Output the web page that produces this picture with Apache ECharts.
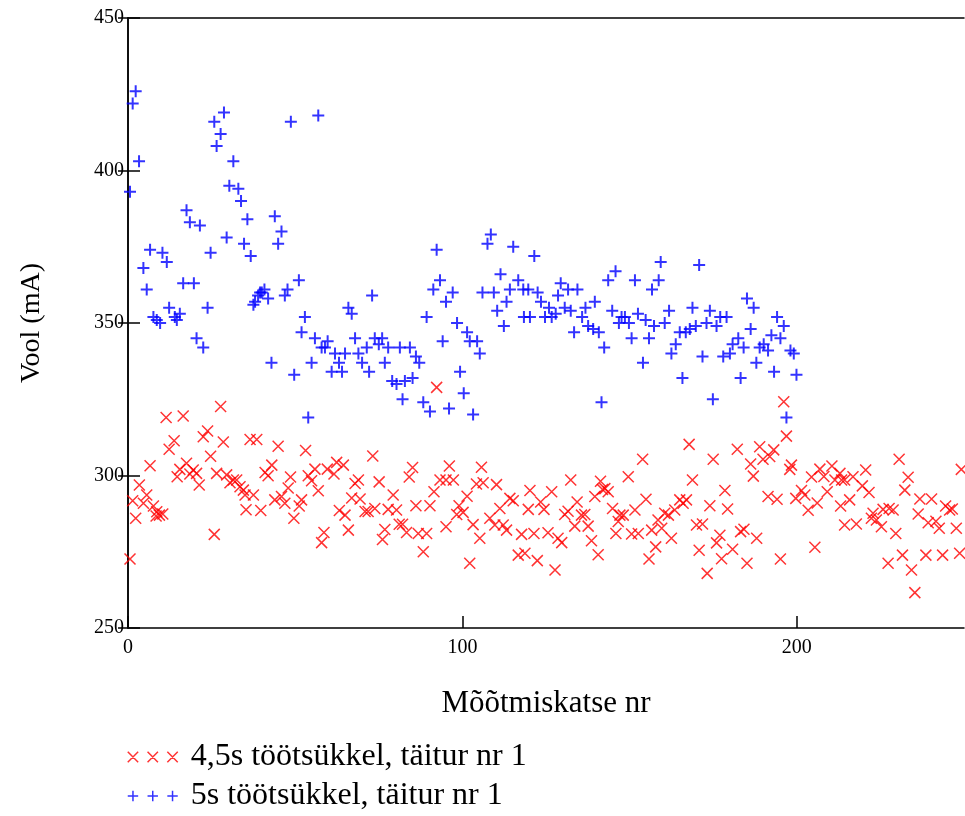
<!DOCTYPE html>
<html>
<head>
<meta charset="utf-8">
<script src="https://cdn.jsdelivr.net/npm/echarts@6/dist/echarts.min.js"></script>
<style>
html,body{margin:0;padding:0;background:#fff;}
#chart{width:965px;height:816px;}
</style>
</head>
<body>
<div id="chart"></div>
<script>
// Series 1: 4,5s töötsükkel (red ×) — [measurement nr, current mA]
const redPoints = [
[0.6,272.6],[1.4,291.7],[2.3,286],[3.4,296.9],[4.6,290.9],[5.6,293.6],[6.6,303.2],[7.6,290],[8.4,286.7],[8.6,288.1],
[9.4,287],[10.4,287.4],[11.4,319],[12.3,308.6],[13.8,311.4],[14.7,299.6],[15.5,302],[16.5,319.5],[17.5,304],[18.5,300.5],
[19.5,301.8],[20.5,300.7],[21.3,296.9],[22.5,312.7],[23.8,314.6],[24.7,306.3],[25.8,280.7],[26.5,300.7],[27.7,322.6],[28.5,311],
[29.5,300.2],[30.5,297.6],[31.5,298.5],[32.5,298.5],[33.5,296.3],[34.5,295.2],[35.3,288.8],[35,293.6],[36.5,311.8],[37.5,293.6],
[38.5,311.8],[39.7,288.5],[41,301],[41.9,299.9],[43,303.4],[43.9,292],[44.9,309.6],[45.9,293.1],[46.9,290.9],[47.9,295.9],
[48.6,299.5],[49.6,286],[51.2,290],[51.9,292],[53.1,308.2],[53.9,299.9],[54.9,298.3],[55.9,302.1],[56.9,295],[57.9,278],
[58.6,281.3],[59.6,302.1],[61.6,300.5],[62.4,304.3],[63.2,288.5],[64.4,303.4],[64.9,287],[65.9,282.1],[66.9,292.6],[67.9,297.4],
[68.9,298.5],[69.4,292.3],[70.9,288.2],[71.8,288.2],[73.2,306.4],[73.8,289.2],[75.1,297.9],[76.1,279],[76.8,282.3],[77.8,288.9],
[79.3,293.6],[80.3,288.7],[81.1,284],[82.1,284],[83.3,281.3],[84.1,299.5],[85.1,302.6],[86.1,290.1],[86.8,281],[88.3,275],
[89.3,281],[90.3,290.1],[91.5,294.7],[92.3,328.9],[93.3,298.5],[95.1,298.5],[95.1,283.2],[96.1,303.1],[97.3,298.5],[98.3,287.2],
[99,290.1],[100.2,287.9],[101.4,293.2],[102.2,271.2],[103.2,283.9],[104.2,297.2],[105.2,279.4],[105.7,302.7],[106.2,297.6],[108.2,286],
[109.7,283.8],[110.2,297],[111.2,289.2],[112.2,283.8],[113.2,282.1],[114.2,292.5],[115.2,291.7],[116.7,273.9],[117.7,280.7],[118.7,274.5],
[119.7,288.9],[120.2,295.1],[121.4,281],[122.4,272.1],[123.4,291.3],[124.4,288.9],[125.6,281.2],[126.7,294.7],[127.7,269],[128.6,279.4],
[129.7,278],[130.6,287.2],[131.6,288.3],[132.4,298.5],[133.6,283.4],[134.3,291.3],[135.6,287],[136.6,287.2],[137.6,283.4],[138.6,278.6],
[139.6,293.1],[140.6,274],[141.3,298.1],[141.9,295.4],[142.6,295.7],[143.6,294.7],[144.9,289.2],[145.9,281],[146.6,284.9],[147.1,287],
[148.1,287],[149.6,299.6],[150.6,280.8],[151.6,288.7],[152.6,281],[153.9,305.3],[154.9,292.2],[155.8,272.6],[156.6,282.1],[157.8,276.6],
[158.5,285.4],[159.6,282.7],[160.5,287.6],[161.6,287],[162.5,279.4],[163.5,288.7],[165,292],[166,290.9],[167,292],[167.8,310.2],
[168.8,298.5],[170,283.8],[170.8,275.5],[171.8,284.1],[173.2,267.9],[174,290.1],[175,305.3],[176,277.9],[177,280.4],[177.5,272.7],
[178.5,295.1],[179.3,289],[180.8,275.8],[182.2,308.6],[183.2,281.6],[184.2,282.4],[185.1,271.2],[186.2,303.8],[187,299.8],[188,279.4],
[188.9,309.4],[189.9,305.3],[191.4,293.1],[191.9,306.2],[193.1,308.4],[194.1,292.2],[195.1,272.6],[196.1,324.2],[196.9,312.9],[197.9,302],
[198.4,303.4],[199.7,292.5],[201.4,295.1],[202.4,293.6],[203.4,288.6],[204.4,299.5],[205.4,276.5],[206.1,291],[206.9,302.1],[208.1,299.7],
[209.1,294.7],[210.5,303.1],[211.4,298.5],[212.9,300.7],[213.1,290],[213.4,298.5],[214.3,283.8],[214.3,298.5],[215.8,292],[216.8,299.6],
[217.8,284.1],[219.6,296.6],[220.6,301.8],[221.6,294.4],[222.3,286],[222.8,287.6],[223.8,285.4],[225.3,283.2],[225.8,288.9],[227.3,271.2],
[227.6,289.2],[228.8,288.7],[229.6,281],[230.6,305.3],[231.6,273.9],[232.3,295.2],[233.3,299.4],[234.3,269],[235.3,261.6],[236.3,287.4],
[236.8,292.3],[238.6,273.9],[239.3,284.5],[240.3,292.3],[241.6,285],[242.6,282.7],[243.6,273.9],[244.5,290],[245.7,288.7],[246.5,289],
[247.7,282.7],[248.7,274.5],[249.2,302]
];
// Series 2: 5s töötsükkel (blue +)
const bluePoints = [
[0.6,393],[1.4,422],[2.3,426],[3.3,403],[4.6,368],[5.6,361],[6.6,374],[7.6,352],[8.6,351],[9.6,350],
[10.3,373],[11.6,370],[12.3,355],[14,352],[14.6,351],[15.5,353],[16.5,363],[17.5,387],[18.5,383],[19.7,363],
[20.5,345],[21.5,382],[22.5,342],[23.8,355],[24.7,373],[25.8,416],[26.5,408],[27.7,412],[28.7,419],[29.5,378],
[30.3,395],[31.5,403],[33,394],[33.8,390],[34.7,376],[35.7,384],[36.7,372],[37.5,356],[38,357],[38.9,359],
[39.5,360],[40,360],[40.8,361],[41.9,358],[42.9,337],[43.9,385],[44.9,376],[45.9,380],[46.9,359],[47.7,361],
[48.7,416],[49.7,333],[51.1,364],[51.9,347],[52.9,352],[53.9,319],[54.9,337],[55.9,345],[56.9,418],[57.9,342],
[58.9,342],[59.7,344],[60.9,334],[61.9,340],[63.1,337],[64,334],[64.9,340],[65.9,355],[66.9,353],[67.9,345],
[68.9,340],[70,337],[71.4,342],[72.1,334],[73,359],[73.8,345],[75,343],[76,345],[76.8,337],[77.8,342],
[79,331],[80.3,330],[81.3,342],[82.1,325],[82.8,331],[84.3,342],[85.1,332],[86.1,339],[87.1,337],[88.3,324],
[89.3,352],[90.3,321],[91.3,361],[92.3,374],[93.3,364],[94.1,344],[95.1,357],[96,322],[97.1,360],[98.4,350],
[99.3,334],[100.4,327],[101.4,347],[102.2,344],[103.2,320],[104.4,344],[105.2,340],[106,360],[107.5,376],[108.5,379],
[109.4,360],[110.4,354],[111.4,366],[112.4,349],[113.2,357],[114.2,361],[115.2,375],[116.7,364],[118.2,361],[118.4,352],
[119.7,361],[120.2,352],[121.5,372],[122.5,360],[123.5,357],[124.7,352],[125.9,355],[126.7,352],[127.9,353],[128.6,359],
[129.4,363],[130.6,355],[131.6,361],[132.4,354],[133.4,347],[134.4,361],[135.8,352],[136.8,355],[137.6,349],[139.1,348],
[139.6,357],[140.8,347],[141.6,324],[142.4,342],[143.6,364],[144.8,354],[145.8,367],[146.8,350],[147.6,352],[148.6,352],
[149.8,350],[150.6,345],[151.6,364],[152.5,353],[154,337],[154.8,351],[155.8,345],[156.7,361],[157.3,349],[158.7,364],
[159.3,370],[160.5,350],[161.8,354],[162.5,340],[163.8,343],[165,347],[165.8,332],[166.8,347],[168,348],[168.8,355],
[169.8,349],[170.8,369],[171.8,339],[173,350],[174,354],[174.9,325],[176,349],[177.1,352],[178,339],[179,352],
[180,340],[180.8,343],[182.5,345],[183.2,332],[184.1,342],[185.1,358],[186.2,348],[187.1,355],[187.9,337],[188.9,342],
[190.1,343],[191.4,341],[192.4,346],[193.2,334],[194.1,352],[195.1,345],[196.1,349],[196.9,319],[198.1,341],[199.1,340],
[199.9,333]
];
const xTicks = [0, 100, 200];
const yTicks = [250, 300, 350, 400, 450];
const seriesNames = ['4,5s töötsükkel, täitur nr 1', '5s töötsükkel, täitur nr 1'];

const FONT = '"Liberation Serif", "Times New Roman", serif';
const X_PATH = 'path://M0,0L10,10M10,0L0,10';
const P_PATH = 'path://M5,0L5,10M0,5L10,5';
const X3_PATH = 'path://M0,0L10,10M10,0L0,10M19,0L29,10M29,0L19,10M38,0L48,10M48,0L38,10';
const P3_PATH = 'path://M5,0L5,10M0,5L10,5M24,0L24,10M19,5L29,5M43,0L43,10M38,5L48,5';

const chart = echarts.init(document.getElementById('chart'), null, {renderer: 'canvas'});
const axisLine = {show: true, lineStyle: {color: '#000', width: 1.5}};
const legendBase = {
  orient: 'vertical', left: 127, padding: 0,
  itemWidth: 50, itemHeight: 11,
  textStyle: {fontFamily: FONT, fontSize: 32, color: '#000', padding: [0, 0, 0, 8]},
  itemStyle: {borderWidth: 1.5}
};
chart.setOption({
  animation: false,
  backgroundColor: '#fff',
  grid: {left: 128, top: 18, right: 1, bottom: 188, containLabel: false},
  xAxis: [{
    type: 'value', min: 0, max: 250, interval: 100, position: 'bottom',
    name: 'Mõõtmiskatse nr', nameLocation: 'middle', nameGap: 60,
    nameTextStyle: {fontFamily: FONT, fontSize: 31, color: '#000'},
    axisLine: axisLine,
    axisTick: {show: true, inside: true, length: 12, lineStyle: {color: '#000', width: 1.5}},
    axisLabel: {fontFamily: FONT, fontSize: 20, color: '#000', margin: 10, showMaxLabel: false,
      formatter: v => xTicks.includes(v) ? String(v) : ''},
    splitLine: {show: false}
  }, {
    type: 'value', min: 0, max: 250, interval: 100, position: 'top',
    axisLine: axisLine, axisTick: {show: false}, axisLabel: {show: false}, splitLine: {show: false}
  }],
  yAxis: [{
    type: 'value', min: 250, max: 450, interval: 50, position: 'left',
    name: 'Vool (mA)', nameLocation: 'middle', nameGap: 82, nameRotate: 90,
    nameTextStyle: {fontFamily: FONT, fontSize: 28, color: '#000'},
    axisLine: axisLine,
    axisTick: {show: true, inside: true, length: 12, lineStyle: {color: '#000', width: 1.5}},
    axisLabel: {fontFamily: FONT, fontSize: 20, color: '#000', margin: 4,
      formatter: v => yTicks.includes(v) ? String(v) : ''},
    splitLine: {show: false}
  }, {
    type: 'value', min: 250, max: 450, interval: 50, position: 'right',
    axisLine: axisLine,
    axisTick: {show: true, inside: true, length: 10, lineStyle: {color: '#000', width: 1.5}},
    axisLabel: {show: false}, splitLine: {show: false}
  }],
  legend: [
    Object.assign({}, legendBase, {top: 741, data: [{name: seriesNames[0], icon: X3_PATH}]}),
    Object.assign({}, legendBase, {top: 780, data: [{name: seriesNames[1], icon: P3_PATH}]})
  ],
  series: [{
    name: seriesNames[0], type: 'scatter', data: redPoints,
    symbol: X_PATH, symbolSize: 11,
    itemStyle: {color: '#ff0000', borderColor: '#ff0000', borderWidth: 1.5}
  }, {
    name: seriesNames[1], type: 'scatter', data: bluePoints,
    symbol: P_PATH, symbolSize: 12,
    itemStyle: {color: '#0000ff', borderColor: '#0000ff', borderWidth: 2}
  }]
});
</script>
</body>
</html>
